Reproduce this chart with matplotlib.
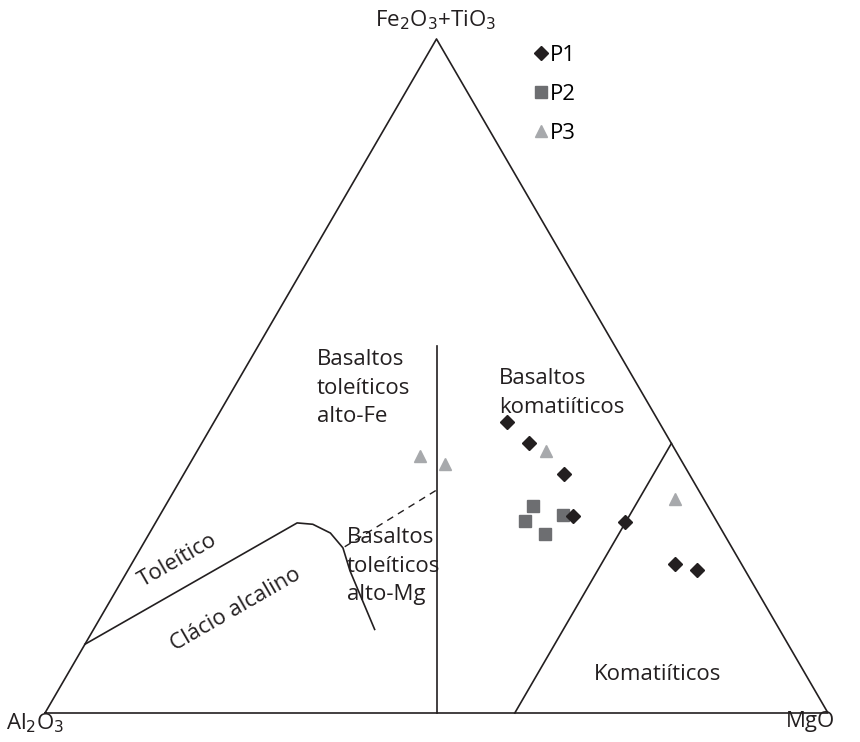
import numpy as np
import matplotlib
matplotlib.use('Agg')
import matplotlib.pyplot as plt

plt.rcParams['font.family'] = ['Open Sans', 'DejaVu Sans']

# ternary compositions: (Al2O3, Fe2O3+TiO3, MgO) fractions
p1_al = [0.194, 0.181, 0.160, 0.180, 0.118, 0.085, 0.061]
p1_fe = [0.431, 0.401, 0.355, 0.292, 0.283, 0.221, 0.212]
p1_mg = [0.375, 0.418, 0.485, 0.528, 0.599, 0.694, 0.727]

p2_al = [0.223, 0.244, 0.229, 0.191]
p2_fe = [0.307, 0.285, 0.265, 0.294]
p2_mg = [0.470, 0.471, 0.506, 0.515]

p3_al = [0.331, 0.305, 0.166, 0.037]
p3_fe = [0.381, 0.369, 0.388, 0.317]
p3_mg = [0.288, 0.326, 0.446, 0.646]

# field boundaries
ca_al = [0.898, 0.537, 0.518, 0.502, 0.497, 0.505, 0.517]
ca_fe = [0.102, 0.282, 0.280, 0.267, 0.245, 0.211, 0.124]
ca_mg = [0.000, 0.181, 0.202, 0.231, 0.258, 0.284, 0.359]

fe_mg_al = [0.5, 0.228]
fe_mg_fe = [0.0, 0.544]
fe_mg_mg = [0.5, 0.228]

dash_al = [0.336, 0.497]
dash_fe = [0.330, 0.245]
dash_mg = [0.334, 0.258]

kom_al = [0.4, 0.0]
kom_fe = [0.0, 0.4]
kom_mg = [0.6, 0.6]

SX = 783.0   # px per unit along x
SY = 778.3   # px per unit along y


def tern(al, fe, mg):
    al = np.asarray(al); fe = np.asarray(fe); mg = np.asarray(mg)
    s = al + fe + mg
    x = (mg + 0.5 * fe) / s
    y = (np.sqrt(3) / 2) * fe / s
    return x, y


def px(x, y):
    # layout helper: pixel position -> axes data units
    return (x - 45) / SX, (713 - y) / SY


fig = plt.figure(figsize=(8.6, 7.42), dpi=100)
ax = fig.add_axes([0, 0, 1, 1])
ax.set_xlim(-45 / SX, (860 - 45) / SX)
ax.set_ylim(-(742 - 713) / SY, 713 / SY)
ax.axis('off')

lc = '#231f20'
lw = 1.2
tx, ty = tern([1, 0, 0, 1], [0, 0, 1, 0], [0, 1, 0, 0])
ax.plot(tx, ty, color=lc, lw=lw)

x, y = tern(ca_al, ca_fe, ca_mg)
ax.plot(x, y, color=lc, lw=lw)
x, y = tern(fe_mg_al, fe_mg_fe, fe_mg_mg)
ax.plot(x, y, color=lc, lw=lw)
x, y = tern(dash_al, dash_fe, dash_mg)
ax.plot(x, y, color=lc, lw=1.0, ls=(0, (5, 4)))
x, y = tern(kom_al, kom_fe, kom_mg)
ax.plot(x, y, color=lc, lw=lw)

x, y = tern(p1_al, p1_fe, p1_mg)
ax.plot(x, y, 'D', color='#231f20', ms=7, ls='none', label='P1', zorder=4)
x, y = tern(p2_al, p2_fe, p2_mg)
ax.plot(x, y, 's', color='#6d6e71', ms=8, ls='none', label='P2', zorder=3)
x, y = tern(p3_al, p3_fe, p3_mg)
ax.plot(x, y, '^', color='#a7a9ac', ms=8, ls='none', label='P3', zorder=3)

fs = 16
tc = '#231f20'
ax.text(*px(436, 20), 'Fe$_2$O$_3$+TiO$_3$', ha='center', va='center', fontsize=fs, color=tc)
ax.text(*px(6, 723), 'Al$_2$O$_3$', ha='left', va='center', fontsize=fs, color=tc)
ax.text(*px(810, 722), 'MgO', ha='center', va='center', fontsize=fs, color=tc)

ax.text(*px(317, 388), 'Basaltos\ntoleíticos\nalto-Fe', ha='left', va='center',
        fontsize=fs, color=tc, linespacing=1.45)
ax.text(*px(499, 393), 'Basaltos\nkomatiíticos', ha='left', va='center',
        fontsize=fs, color=tc, linespacing=1.45)
ax.text(*px(347, 566), 'Basaltos\ntoleíticos\nalto-Mg', ha='left', va='center',
        fontsize=fs, color=tc, linespacing=1.45)
ax.text(*px(178, 560), 'Toleítico', ha='center', va='center', rotation=30,
        rotation_mode='anchor', fontsize=fs, color=tc)
ax.text(*px(236, 610), 'Clácio alcalino', ha='center', va='center', rotation=30,
        rotation_mode='anchor', fontsize=fs, color=tc)
ax.text(*px(658, 675), 'Komatiíticos', ha='center', va='center', fontsize=fs, color=tc)

ax.legend(loc='upper left', bbox_to_anchor=(535 / 860, 1 - 45 / 742),
          frameon=False, fontsize=fs, handlelength=0.5, handletextpad=0.15,
          labelspacing=0.8, borderpad=0, borderaxespad=0)

fig.savefig('out.png', dpi=100)
